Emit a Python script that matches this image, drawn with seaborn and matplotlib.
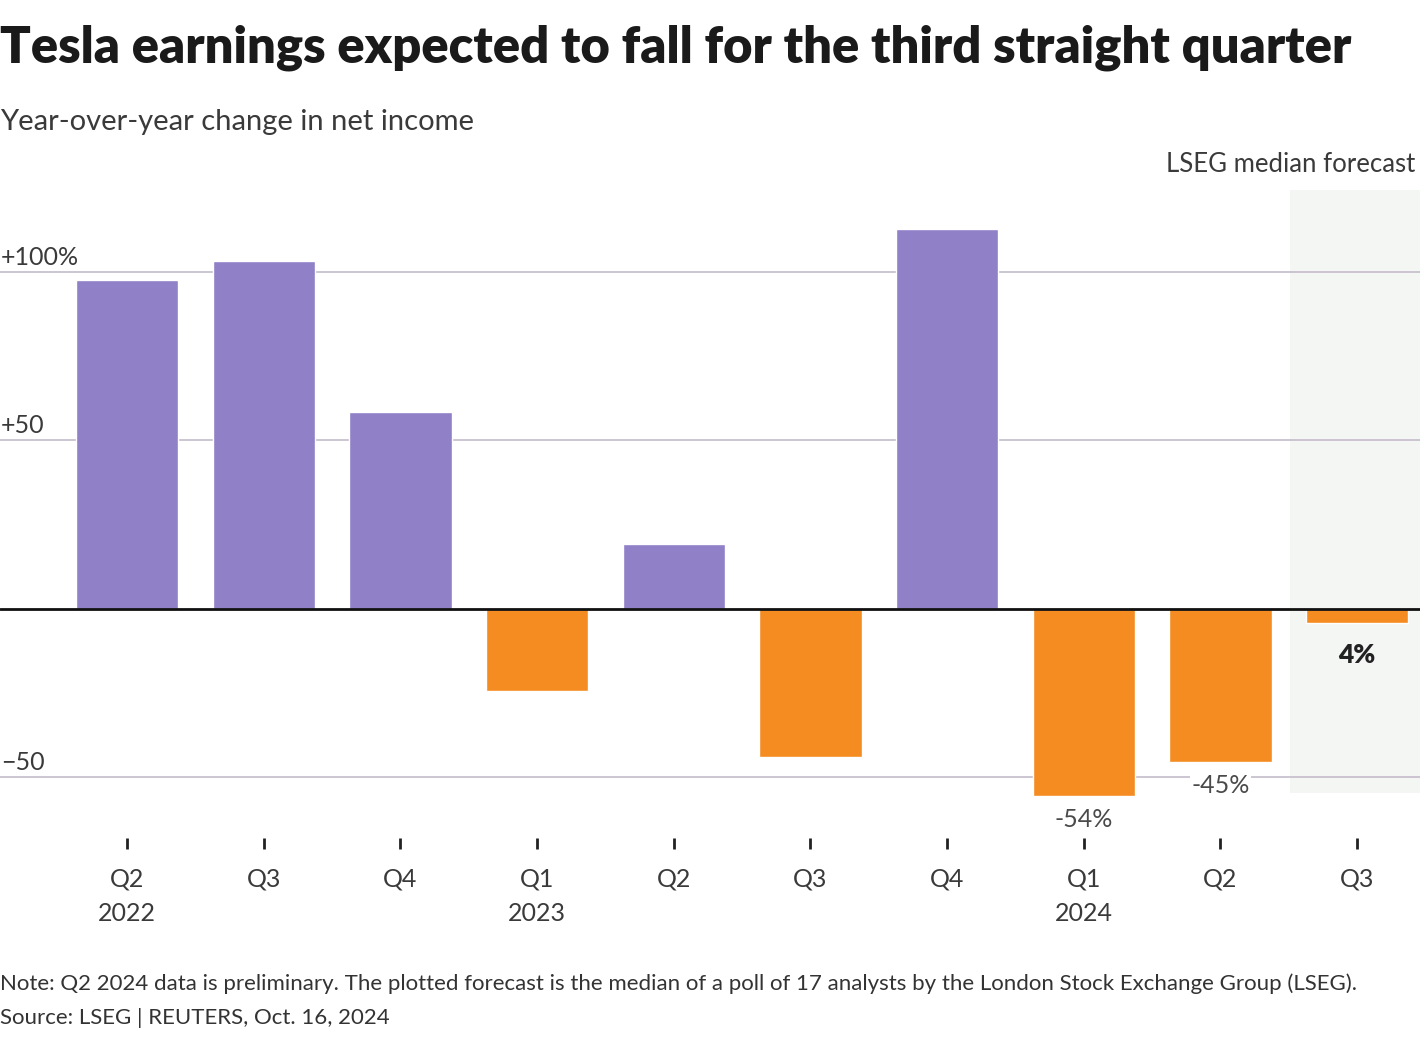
import matplotlib
matplotlib.use('Agg')
import matplotlib.pyplot as plt
from matplotlib.patches import Rectangle
import seaborn as sns
import pandas as pd

# Datos
quarters = ["Q2", "Q3", "Q4", "Q1", "Q2", "Q3", "Q4", "Q1", "Q2", "Q3"]
years = ["2022", "", "", "2023", "", "", "", "2024", "", ""]
net_income_change = [97.6, 103.3, 58.5, -24.3, 19.3, -43.9, 112.8, -55.5, -45.4, -4.2]
value_labels = {7: "-54%", 8: "-45%"}
forecast_label = "4%"
yticks = [100, 50, -50]
ytick_labels = ["+100%", "+50", "\u221250"]

PURPLE = "#9080c8"
ORANGE = "#f48c22"
TEXT = "#3a3a3a"

sns.set_theme(style="white")
plt.rcParams['font.family'] = ['Lato', 'DejaVu Sans']

df = pd.DataFrame({
    "period": [f"{q} {i}" for i, q in enumerate(quarters)],
    "value": net_income_change,
})
df["sign"] = ["pos" if v >= 0 else "neg" for v in df["value"]]

fig = plt.figure(figsize=(14.2, 10.4), dpi=100)
# ejes: izquierda 0px, derecha 1420px, arriba 190px, abajo 838px
ax = fig.add_axes([0.0, 1 - 838 / 1040, 1.0, (838 - 190) / 1040])

# zona de pronóstico
x_lo, x_hi = -0.93, 9.46
y_lo, y_hi = -68.0, 124.3
ax.add_patch(Rectangle((8.51, -54.6), x_hi - 8.51, y_hi + 54.6,
                       facecolor="#f4f6f4", edgecolor="none", zorder=0))

for y in yticks:
    ax.axhline(y, color="#c4bccb", linewidth=1.2, zorder=1)

sns.barplot(data=df, x="period", y="value", hue="sign",
            palette={"pos": PURPLE, "neg": ORANGE}, width=0.75,
            legend=False, saturation=1, ax=ax, zorder=2)

ax.axhline(0, color="#111111", linewidth=2, zorder=3)

ax.set_xlim(x_lo, x_hi)
ax.set_ylim(y_lo, y_hi)
for s in ax.spines.values():
    s.set_visible(False)
ax.set_xlabel("")
ax.set_ylabel("")
ax.set_yticks([])
ax.set_xticks(range(len(quarters)))
ax.set_xticklabels([f"{q}\n{y}" if y else q for q, y in zip(quarters, years)],
                   fontsize=18, color=TEXT, va="top", linespacing=1.6)
ax.tick_params(axis="x", bottom=True, length=8, width=2, color="#222222",
               pad=13, direction="out")

for y, lab in zip(yticks, ytick_labels):
    ax.text(x_lo + 0.005, y + 1.0, lab, fontsize=18, color=TEXT,
            ha="left", va="bottom")

for i, lab in value_labels.items():
    ax.text(i, net_income_change[i] - 3.5, lab, fontsize=18, color="#4a4a4a",
            ha="center", va="top",
            bbox=dict(facecolor="white", edgecolor="none", pad=1))
ax.text(9, net_income_change[9] - 6, forecast_label, fontsize=19,
        fontweight="heavy", color="#222222", ha="center", va="top")

fig.text(1415 / 1420, 1 - 165 / 1040, "LSEG median forecast", fontsize=18.5,
         color=TEXT, ha="right", va="center")

fig.text(0.0, 1 - 48 / 1040, "Tesla earnings expected to fall for the third straight quarter",
         fontsize=36.5, fontweight="heavy", color="#1a1a1a", ha="left", va="center")
fig.text(0.0, 1 - 122 / 1040, "Year-over-year change in net income",
         fontsize=21, color=TEXT, ha="left", va="center")
fig.text(0.0, 1 - 984 / 1040,
         "Note: Q2 2024 data is preliminary. The plotted forecast is the median of a poll of 17 analysts by the London Stock Exchange Group (LSEG).",
         fontsize=16, color="#333333", ha="left", va="center")
fig.text(0.0, 1 - 1018 / 1040, "Source: LSEG | REUTERS, Oct. 16, 2024",
         fontsize=16, color="#333333", ha="left", va="center")

fig.savefig("out.png", dpi=100)
plt.close(fig)
